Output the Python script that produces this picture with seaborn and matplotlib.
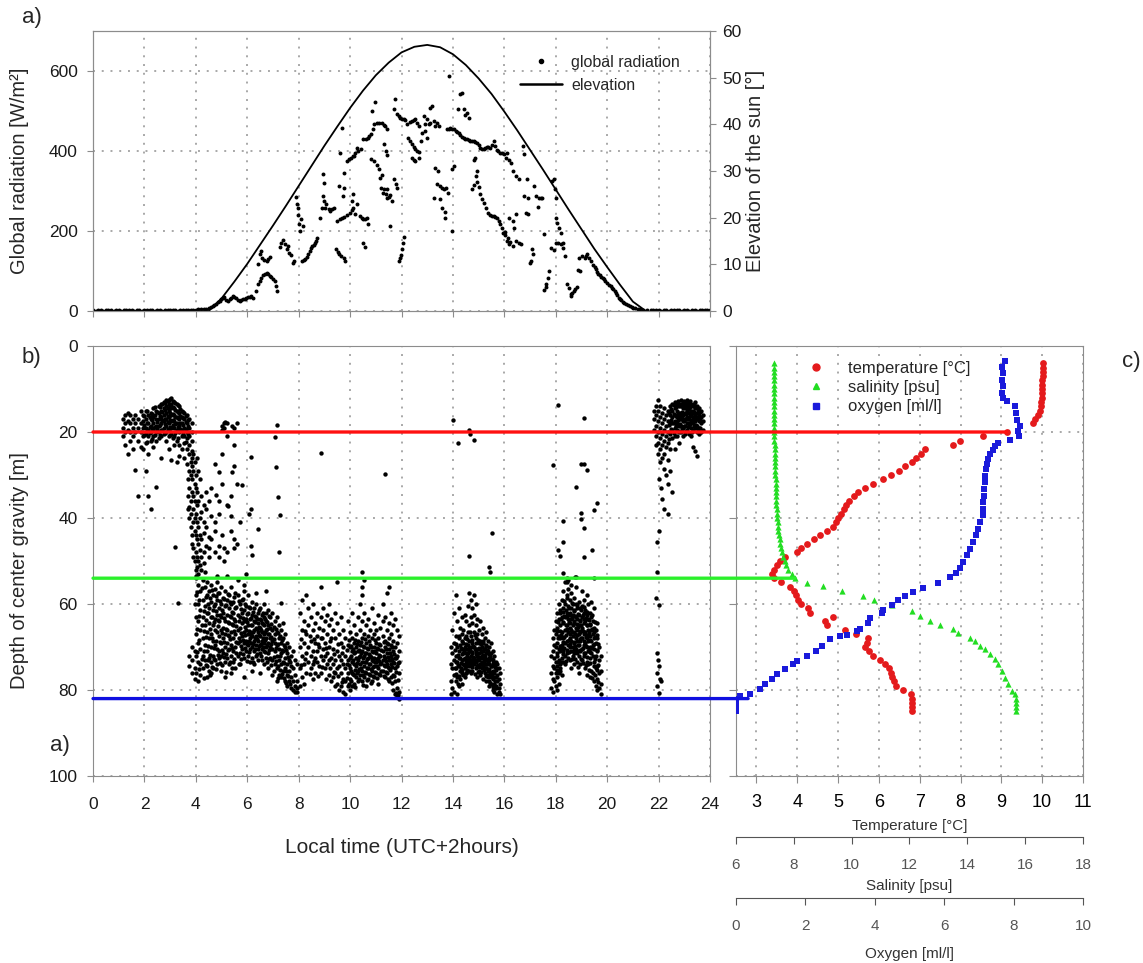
import pandas as pd
import matplotlib.pyplot as plt
import seaborn as sns
from matplotlib.lines import Line2D
from matplotlib.patches import ConnectionPatch

# ---------------- a) global radiation [W/m2] and sun elevation ----------------
# night samples every 0.1 h (0.0-4.2 h and 21.9-24.0 h)
rad_night_am = [2, 1, 2, 2, 1, 2, 3, 2, 1, 2, 2, 1, 2, 3, 2, 2, 1, 2, 2, 1, 2, 2,
                3, 2, 1, 2, 2, 1, 2, 2, 3, 2, 2, 1, 2, 2, 3, 2, 2, 3, 3, 4, 5]
rad_night_pm = [2, 2, 1, 2, 2, 1, 2, 2, 3, 2, 1, 2, 2, 1, 2, 2, 1, 2, 2, 3, 2, 2]

rad_morning = [
    (4.3, 4), (4.4, 5), (4.52, 8), (4.6, 10), (4.65, 12), (4.72, 15), (4.78, 18), (4.85, 22),
    (4.92, 25), (4.98, 29), (5.05, 32), (5.1, 36), (5.18, 27), (5.24, 25), (5.31, 29), (5.37, 33),
    (5.44, 37), (5.5, 34), (5.57, 32), (5.63, 28), (5.7, 25), (5.76, 27), (5.83, 29), (5.9, 31),
    (5.96, 32), (6.02, 36), (6.09, 35), (6.15, 38), (6.22, 33),
    (6.35, 50), (6.42, 67), (6.48, 76), (6.55, 83), (6.62, 90), (6.68, 92), (6.75, 95), (6.81, 92),
    (6.88, 88), (6.94, 85), (7.0, 80), (7.07, 75), (7.11, 62), (7.16, 50),
    (6.42, 117), (6.48, 142), (6.53, 150), (6.59, 133), (6.66, 128), (6.75, 125), (6.82, 130), (6.88, 135),
    (7.28, 160), (7.33, 171), (7.4, 178), (7.46, 168), (7.53, 154), (7.6, 162), (7.63, 146), (7.7, 140),
    (7.76, 121), (7.82, 125),
    (7.9, 285), (7.92, 267), (7.96, 258), (7.99, 240), (8.03, 217), (8.05, 200), (8.08, 229), (8.16, 212),
    (8.12, 125), (8.19, 127), (8.25, 129), (8.32, 135), (8.38, 142), (8.43, 150), (8.47, 158), (8.53, 162),
    (8.58, 165), (8.63, 170), (8.68, 175), (8.73, 183),
    (8.84, 233), (8.9, 258), (8.94, 287), (8.97, 275), (8.99, 321), (8.94, 342), (9.03, 258),
    (9.07, 267), (9.16, 254), (9.22, 250), (9.29, 254), (9.39, 258),
    (9.46, 154), (9.51, 148), (9.56, 143), (9.65, 138), (9.75, 133), (9.82, 125),
    (9.49, 225), (9.6, 230), (9.69, 233), (9.78, 236), (9.88, 240), (9.98, 245), (10.08, 252),
    (9.56, 312), (9.73, 287), (9.78, 308), (9.62, 396), (9.69, 458), (9.75, 346),
    (9.88, 375), (9.96, 380), (10.04, 383), (10.14, 388), (10.2, 396), (10.27, 407),
]

rad_midday = [
    (10.06, 275), (10.1, 292), (10.13, 258), (10.19, 242), (10.26, 267), (10.39, 237), (10.45, 232),
    (10.52, 229), (10.58, 231), (10.65, 233), (10.71, 217), (10.52, 171), (10.56, 160),
    (10.13, 387), (10.29, 400), (10.42, 404), (10.52, 429), (10.6, 431), (10.68, 433), (10.75, 438),
    (10.81, 443), (10.88, 455), (10.94, 467), (10.84, 500), (10.97, 523),
    (11.04, 471), (11.13, 470), (11.23, 470), (11.3, 466), (11.36, 462), (11.45, 454),
    (10.81, 379), (10.91, 375), (11.04, 365), (11.12, 354), (11.17, 333), (11.23, 340), (11.3, 304),
    (11.38, 292), (11.45, 283), (11.5, 286), (11.56, 290), (11.64, 275),
    (11.3, 417), (11.38, 400), (11.45, 390), (11.19, 308), (11.27, 296), (11.43, 304),
    (11.56, 212), (11.69, 504), (11.75, 529), (11.84, 492), (11.9, 488), (11.95, 483), (12.02, 481),
    (12.08, 479), (12.14, 477),
    (11.69, 329), (11.77, 317), (11.82, 307),
    (12.08, 185), (12.06, 171), (12.03, 154), (11.98, 140), (11.95, 132), (11.9, 125),
    (12.23, 467), (12.32, 472), (12.4, 475), (12.47, 477), (12.53, 479), (12.6, 470), (12.66, 462),
    (12.27, 433), (12.34, 425), (12.4, 417), (12.47, 410), (12.53, 404), (12.6, 400), (12.66, 398),
    (12.75, 425), (12.4, 383), (12.47, 378), (12.53, 375), (12.66, 382),
    (12.86, 487), (12.92, 467), (12.99, 479), (13.05, 468), (13.12, 471), (13.18, 512), (13.12, 508),
    (13.25, 475), (13.31, 462), (13.38, 471), (13.44, 462),
    (12.79, 446), (12.92, 450), (12.99, 433),
    (13.31, 358), (13.38, 317), (13.4, 350), (13.48, 312), (13.57, 308), (13.66, 304), (13.74, 308),
    (13.79, 296), (13.25, 283), (13.51, 279), (13.58, 258), (13.69, 248), (13.71, 233),
    (13.83, 588), (13.96, 200), (13.96, 354), (14.04, 362),
    (14.18, 504), (14.29, 542), (14.35, 546),
    (13.77, 454), (13.84, 456), (13.9, 458), (13.97, 456), (14.03, 454), (14.1, 451), (14.16, 448),
    (14.22, 444), (14.29, 440), (14.35, 436), (14.42, 433), (14.48, 431), (14.55, 429), (14.61, 427),
    (14.68, 425), (14.74, 425), (14.81, 425), (14.87, 423), (14.94, 421),
]

rad_afternoon = [
    (15.0, 414), (15.06, 408), (15.12, 406), (15.19, 404), (15.25, 407), (15.32, 410), (15.38, 409),
    (15.45, 407), (15.51, 415), (15.58, 425), (15.64, 412), (15.71, 402), (15.77, 399), (15.84, 396),
    (15.9, 394), (15.97, 392),
    (14.42, 504), (14.48, 490), (14.55, 496), (14.61, 483),
    (14.74, 304), (14.81, 315), (14.83, 377), (14.87, 383), (14.88, 337), (14.94, 350), (14.95, 323),
    (15.01, 310), (15.06, 292), (15.14, 279), (15.22, 271), (15.3, 258), (15.38, 246), (15.45, 240),
    (15.52, 238), (15.58, 237), (15.65, 235), (15.71, 232), (15.78, 225), (15.84, 217), (15.92, 208),
    (16.04, 198), (16.13, 183), (16.23, 173),
    (16.06, 383), (16.1, 396), (16.18, 378), (16.26, 371), (16.35, 350), (16.45, 337), (16.58, 329),
    (16.71, 412), (16.77, 392), (16.88, 329),
    (16.77, 287), (16.9, 283), (17.16, 312), (17.23, 287), (17.29, 260), (17.35, 283), (17.42, 283),
    (17.48, 282), (16.84, 246), (16.9, 242), (16.19, 233), (16.32, 225), (16.45, 242), (16.36, 208),
    (15.94, 196), (16.03, 190), (16.1, 175), (16.19, 168), (16.32, 162), (16.45, 175), (16.58, 170),
    (16.65, 167), (17.55, 192), (16.98, 120), (17.03, 125), (17.06, 154), (17.11, 142),
    (17.55, 53), (17.6, 60), (17.63, 68), (17.68, 83), (17.74, 100),
    (17.81, 158), (17.94, 152), (18.01, 171), (18.1, 170), (18.19, 167), (18.27, 157), (18.35, 137),
    (17.87, 325), (17.94, 329), (17.96, 304), (18.01, 283),
    (18.0, 233), (18.06, 221), (18.14, 208), (18.19, 195), (18.27, 170),
    (18.45, 67), (18.52, 57), (18.58, 37), (18.6, 42), (18.65, 45), (18.71, 50), (18.76, 55), (18.81, 60),
    (18.87, 102), (18.96, 100),
    (18.9, 133), (19.03, 137), (19.12, 133), (19.17, 138), (19.23, 142), (19.3, 133), (19.38, 125),
    (19.46, 115), (19.51, 110), (19.56, 104), (19.61, 98), (19.66, 93), (19.72, 89), (19.77, 85),
    (19.82, 82), (19.87, 79), (19.93, 75), (20.0, 71), (20.06, 66), (20.13, 62), (20.18, 58),
    (20.23, 54), (20.29, 50), (20.34, 46), (20.39, 40), (20.44, 33), (20.5, 30), (20.55, 27),
    (20.61, 23), (20.67, 20), (20.73, 17), (20.8, 14), (20.87, 12), (20.95, 10), (21.02, 8),
    (21.1, 7), (21.2, 5), (21.29, 4), (21.4, 3), (21.55, 2), (21.7, 2), (21.8, 2),
]

# sun elevation [deg], read every half hour from 4.5 h to 21.5 h
elev_hours = [4.5, 5.0, 5.5, 6.0, 6.5, 7.0, 7.5, 8.0, 8.5, 9.0, 9.5, 10.0, 10.5, 11.0, 11.5, 12.0,
              12.5, 13.0, 13.5, 14.0, 14.5, 15.0, 15.5, 16.0, 16.5, 17.0, 17.5, 18.0, 18.5, 19.0,
              19.5, 20.0, 20.5, 21.0, 21.5]
elev_deg = [0, 2.7, 6.3, 10.1, 14.2, 18.3, 22.5, 26.8, 31.1, 35.4, 39.5, 43.5, 47.2, 50.5, 53.2,
            55.4, 56.6, 57.0, 56.5, 55.0, 52.7, 49.8, 46.5, 42.7, 38.7, 34.5, 30.3, 26.0, 21.7,
            17.5, 13.3, 9.4, 5.6, 2.0, 0]

# ---------------- b) depth of centre of gravity [m] ----------------
# (hour, [depths observed around that hour])
dawn_shallow = [
    (1.15, [17, 19, 21]), (1.25, [16, 18, 20, 23]), (1.35, [15.5, 17.5, 19.5, 25]),
    (1.45, [16, 18, 20, 22]), (1.55, [17, 19, 21, 24]), (1.65, [16, 18, 20, 28.8]),
    (1.75, [17, 19, 22, 34.9]), (1.85, [15, 18, 20, 23.5]), (1.95, [16, 17.5, 19, 21, 24]),
    (2.05, [15, 17, 19, 20.5, 22.5, 29]), (2.15, [16, 18, 19.5, 21, 25, 35]),
    (2.25, [15.5, 17, 18.5, 20, 22, 37.8]), (2.35, [14.5, 16.5, 18, 19.5, 21, 23.5]),
    (2.45, [15, 17, 18.5, 20, 22, 32.7]), (2.55, [14, 15.5, 17, 18.5, 20, 21.5]),
    (2.65, [13.5, 15, 16.5, 18, 19.5, 21, 26]), (2.75, [13, 14.5, 16, 17.5, 19, 20.5]),
    (2.85, [12.5, 14, 15.5, 17, 18.5, 20, 22]), (2.95, [12.5, 13.5, 15, 16.5, 18, 19.5, 21, 24]),
    (3.05, [12, 13.5, 14.5, 16, 17.5, 19, 20.5, 26.5]), (3.15, [13, 14.5, 16, 17.5, 19, 21, 23]),
    (3.25, [13.5, 15, 16.5, 18, 19.5, 22, 27]), (3.35, [14, 15.5, 17, 18.5, 20, 23, 25.5]),
    (3.45, [15, 16.5, 18, 19.5, 21, 24]), (3.55, [15.5, 17, 19, 21, 22.5, 26]),
    (3.65, [16, 18, 20, 21.5, 24, 27.5]), (3.75, [17, 19, 21, 23, 25]), (3.85, [18, 20, 22, 24.5, 28]),
    (2.0, [16.3, 18.4, 20.8]), (2.1, [15.2, 17.8, 19.7, 22.3]), (2.2, [16.6, 18.9, 20.3]),
    (2.3, [15.7, 17.2, 19.1, 21.6]), (2.4, [14.3, 16.1, 18.8, 20.6]), (2.5, [15.4, 17.6, 19.3]),
    (2.6, [14.1, 16.2, 18.4, 20.7]), (2.7, [13.6, 15.3, 17.1, 19.6]), (2.8, [13.2, 14.8, 16.9, 18.2, 20.3]),
    (2.9, [12.8, 14.4, 16.3, 17.7, 19.4]), (3.0, [12.3, 13.9, 15.6, 17.3, 18.8, 20.6]),
    (3.1, [12.7, 14.2, 15.8, 17.1, 18.3, 21.4]), (3.2, [13.3, 14.9, 16.4, 18.1, 20.2]),
    (3.3, [13.8, 15.4, 16.8, 18.9, 21.3]), (3.4, [14.6, 16.2, 17.8, 19.2]),
    (3.5, [15.3, 16.7, 18.4, 20.5]), (3.6, [16.2, 17.6, 19.4, 22.3]), (3.7, [17.3, 18.6, 20.4]),
]

descent = [
    (3.7, [31, 35, 38]), (3.75, [29, 33, 37.5, 40]), (3.8, [27, 30, 36, 39, 42]),
    (3.85, [26, 31, 34, 44, 46]), (3.9, [25, 29, 35, 38, 41, 47, 49]), (3.95, [27, 32, 36, 40, 43, 50]),
    (4.0, [30, 33, 39, 44, 48, 52, 53.5]), (4.05, [26, 34, 37, 41, 45, 49, 51.5]),
    (4.1, [29, 36, 42, 46, 50, 53]), (4.15, [31, 40, 44, 47.5, 51]), (4.2, [35, 38.5, 45, 49, 52]),
    (4.3, [37, 41, 43.5, 48, 50.5]), (4.4, [34, 38, 42, 46.5]), (4.5, [36, 44.5, 47, 49]),
    (4.6, [33, 39.5, 45]), (4.75, [27.5, 41, 43, 48]), (4.9, [29.3, 36, 39, 46.5, 49]),
    (5.0, [18.5, 19.5, 25, 32, 44]), (5.1, [18, 19, 47, 50]), (5.2, [18, 21, 37, 48]),
    (5.35, [35, 39.5, 43]), (5.5, [19, 23, 28, 45, 47]), (5.6, [18, 32, 46]), (5.7, [41]),
    (5.8, [32.4]), (6.05, [39]), (6.15, [25.9, 37.9, 46.4]), (6.2, [48.5]), (6.4, [42.5]),
]

deep_morning = [
    (3.75, [72, 74.5]), (3.85, [70, 73, 76]), (3.95, [60, 71, 75, 77.5]),
    (4.02, [54, 58, 63, 67, 72, 76]), (4.1, [55.5, 60, 64, 69, 73.5, 78]),
    (4.18, [57, 61.5, 66, 70.5, 74, 76.5]), (4.26, [54.5, 59, 63, 68, 72, 75]),
    (4.34, [52.5, 56, 60.5, 65, 69.5, 73]), (4.42, [55, 58, 62, 66.5, 71, 74.5, 77]),
    (4.5, [57, 61, 64.5, 68, 72.5, 75.5]), (4.58, [55.5, 59.5, 63, 67, 70, 73.5, 76]),
    (4.66, [58, 61.5, 65, 68.5, 72, 75]), (4.74, [56.5, 60, 63.5, 66, 69.5, 73]),
    (4.82, [53.5, 55, 59, 62.5, 66.5, 70.5, 74]), (4.9, [57.5, 61, 64, 67.5, 71, 72.5]),
    (4.98, [56, 60, 63, 66, 69, 72, 75.5]), (5.06, [58.5, 62, 65.5, 68, 71.5]),
    (5.14, [57, 60.5, 64, 67, 70, 73.5, 77]), (5.22, [53.5, 59, 62.5, 66, 69, 72.5]),
    (5.3, [58, 61, 64.5, 67.5, 70.5, 74]), (5.38, [56, 60, 63, 66.5, 69.5, 72, 76]),
    (5.46, [59.5, 62, 65, 68, 71, 73.5]), (5.54, [57.5, 61, 64, 67, 70, 75]),
    (5.62, [54.5, 58, 62.5, 66, 69, 72]), (5.7, [60, 63, 65.5, 68.5, 71.5, 74]),
    (5.78, [59, 62, 64.5, 67.5, 70.5]), (5.86, [55.5, 57, 61.5, 64, 66.5, 69, 72.5, 77]),
    (5.94, [53, 60.5, 63.5, 66, 68.5, 71]), (6.02, [58, 62, 65, 67, 69.5, 72]),
    (6.1, [61, 63.5, 66.5, 68, 70.5, 73.5]), (6.18, [59.5, 62.5, 65, 67.5, 70, 72.5, 75.5]),
    (6.26, [61, 64, 66, 68.5, 71, 74]), (6.34, [57.5, 60, 63, 65.5, 67.5, 69.5, 72]),
    (6.42, [62, 64.5, 66.5, 68.5, 70.5, 73]), (6.5, [61, 63.5, 65.5, 67.5, 69.5, 71.5, 76]),
    (6.58, [62.5, 64.5, 66.5, 68.5, 70.5, 73]), (6.66, [60, 63, 65, 67, 69, 71, 74]),
    (6.74, [57, 62, 64, 66, 68, 70, 72.5]), (6.82, [61.5, 65, 67, 69, 71.5, 75]),
    (6.9, [63, 65.5, 68, 70, 72.5]), (6.98, [62, 66, 68.5, 70.5, 73, 76.5]),
    (7.06, [64, 67, 69, 71, 74]), (7.14, [63, 66.5, 69.5, 72, 75, 78]),
    (7.22, [65, 68, 70.5, 73, 76.5]), (7.3, [59.8, 66, 69, 71.5, 74, 77]),
    (7.38, [64.5, 68, 71, 73.5, 75.5]), (7.46, [67, 70, 72.5, 75, 78]),
    (7.54, [69, 71.5, 74, 76.5, 79]), (7.62, [70, 73, 75.5, 78]), (7.7, [72, 74.5, 77, 79.5]),
    (7.78, [71, 75, 78, 80]), (7.86, [73, 76.5, 79, 80.5]), (7.94, [74, 78, 79.5, 80.5]),
    (4.06, [57.3, 65.8, 71.2]), (4.14, [59.1, 62.7, 68.4, 75.1]), (4.22, [56.2, 64.9, 72.8]),
    (4.3, [61.7, 66.3, 70.9, 77.2]), (4.38, [58.4, 63.8, 67.6, 74.3]), (4.46, [59.9, 62.2, 69.7, 73.1]),
    (4.54, [58.7, 65.9, 71.8, 76.4]), (4.62, [56.8, 63.1, 67.9, 74.6]), (4.7, [60.4, 64.2, 70.3, 72.9]),
    (4.78, [58.2, 61.6, 68.7, 75.2]), (4.86, [57.4, 63.7, 65.1, 71.9]), (4.94, [59.3, 62.6, 68.9, 73.7]),
    (5.02, [61.4, 66.8, 70.6, 74.1]), (5.1, [58.9, 63.2, 68.8, 72.3]), (5.18, [60.2, 65.7, 71.6, 75.8]),
    (5.26, [57.6, 64.1, 67.3, 70.8]), (5.34, [59.6, 62.9, 68.2, 73.4]), (5.42, [61.8, 64.6, 70.2, 74.8]),
    (5.5, [58.3, 63.4, 66.3, 72.7]), (5.58, [60.7, 65.2, 68.9, 71.3]), (5.66, [59.4, 63.9, 67.8, 73.9]),
    (5.74, [61.2, 66.7, 69.8, 72.9]), (5.82, [58.8, 63.3, 68.3, 71.6]), (5.9, [60.1, 65.4, 67.1, 70.3]),
    (5.98, [62.3, 64.1, 69.4, 73.2]), (6.06, [60.6, 66.2, 68.7, 71.2]), (6.14, [63.2, 64.8, 67.3, 69.1]),
    (6.22, [61.9, 66.4, 69.3, 73.6]), (6.3, [62.7, 64.3, 67.8, 70.4]), (6.38, [63.4, 65.8, 68.1, 71.7]),
    (6.46, [61.3, 65.3, 67.2, 69.8]), (6.54, [63.8, 66.1, 69.2, 72.2]), (6.62, [62.1, 64.6, 67.9, 70.1]),
    (6.7, [63.6, 66.6, 68.3, 71.1]), (6.78, [64.3, 65.9, 69.6, 73.4]), (6.86, [62.8, 66.9, 70.7, 72.8]),
    (6.94, [64.7, 67.7, 69.2, 74.2]), (7.02, [65.4, 68.2, 72.3, 75.6]), (7.1, [65.9, 70.3, 73.3]),
    (7.18, [66.8, 69.3, 74.4, 77.3]), (7.26, [67.4, 72.2, 75.3]), (7.34, [68.3, 70.6, 76.2]),
    (7.42, [69.6, 73.8, 77.1]), (7.5, [70.7, 75.6, 78.3]), (7.58, [72.4, 76.8]), (7.66, [73.6, 78.6]),
]

deep_forenoon = [
    (8.06, [62, 70, 75, 79]), (8.14, [59, 66, 72, 77]), (8.22, [64, 69, 74, 78.5]),
    (8.3, [58, 67, 71.5, 76]), (8.38, [61, 65, 70, 73.5]), (8.46, [63, 68.5, 72, 75]),
    (8.54, [60, 66, 71, 74, 77.5]), (8.62, [64.5, 69, 72.5, 76]), (8.7, [62, 67.5, 71, 73.5]),
    (8.78, [65.5, 70, 74.5]), (8.86, [56, 63, 68, 72, 76]), (8.94, [61, 66, 70.5, 73]),
    (9.02, [64, 69, 72, 75]), (9.1, [62.5, 67, 71.5, 74]), (9.18, [60, 65, 70, 73, 76.5]),
    (9.26, [63.5, 68, 72.5, 78]), (9.34, [66, 70.5, 74, 77]), (9.42, [62, 68, 73, 76, 79]),
    (9.5, [55, 64.5, 71, 75, 78.5]), (9.58, [67, 72, 74.5, 80]), (9.66, [63, 69, 73, 76, 79]),
    (9.74, [66, 70, 74, 77.5, 80.5]), (9.82, [68, 72, 75, 78, 81]), (9.9, [64, 69.5, 73, 76, 79]),
    (9.98, [66.5, 70, 72.5, 75, 77.5, 80]), (10.06, [62, 68, 71, 73.5, 76, 79]),
    (10.14, [65, 69, 71.5, 74, 76.5, 78.5]), (10.22, [67, 70, 72.5, 74.5, 77]),
    (10.3, [63, 68.5, 71, 73, 75.5, 78]), (10.38, [60, 66, 69.5, 72, 74, 76.5]),
    (10.46, [52.5, 56, 58, 64, 68, 71, 73.5, 75.5, 78]), (10.54, [54.5, 62, 67, 70, 72, 74.5, 77]),
    (10.62, [65, 69, 71.5, 73.5, 76, 79]), (10.7, [63.5, 67.5, 70.5, 72.5, 75, 77.5]),
    (10.78, [66, 69.5, 72, 74, 76.5]), (10.86, [61, 68, 71, 73, 75.5, 78]),
    (10.94, [64.5, 67, 70, 72.5, 74.5, 77]), (11.02, [66, 69, 71.5, 73.5, 76]),
    (11.1, [62.5, 68, 70.5, 72.5, 75, 78.5]), (11.18, [65.5, 69.5, 72, 74, 76.5]),
    (11.26, [60, 64, 67.5, 71, 73, 75.5]), (11.34, [63, 68.5, 70, 72.5, 74.5, 77]),
    (11.42, [57.5, 66, 69, 71.5, 74, 76]), (11.5, [56, 64.5, 68, 70.5, 73, 75, 78]),
    (11.58, [62, 67, 69.5, 72, 74, 77]), (11.66, [65, 68.5, 71, 73.5, 76.5, 80]),
    (11.74, [63.5, 70, 72.5, 75, 78, 81]), (11.82, [66, 69, 72, 74.5, 79.5, 81.5]),
    (11.9, [67.5, 71, 73.5, 76, 80.5, 82]),
    (8.1, [68.2, 74.1]), (8.26, [66.3, 72.7]), (8.42, [67.4, 76.3]), (8.58, [68.1, 73.2]),
    (8.74, [69.4, 76.8]), (8.9, [67.9, 74.6]), (9.06, [70.2, 77.4]), (9.22, [68.6, 74.9]),
    (9.38, [71.6, 75.8]), (9.54, [69.2, 76.7]), (9.7, [71.4, 78.2]),
    (9.86, [70.7, 73.9, 77.2]), (9.94, [68.3, 74.3, 78.6]), (10.02, [69.7, 72.2, 75.6, 77.9]),
    (10.1, [70.4, 73.1, 76.2]), (10.18, [68.4, 71.2, 75.3, 79.3]), (10.26, [69.2, 73.7, 76.1]),
    (10.34, [70.6, 72.4, 75.2, 77.4]), (10.42, [68.9, 71.4, 74.8]), (10.5, [69.7, 72.6, 76.4, 78.9]),
    (10.58, [68.2, 71.3, 73.4, 75.8]), (10.66, [70.2, 72.7, 74.9, 77.6]), (10.74, [68.7, 71.6, 73.9, 76.2]),
    (10.82, [69.9, 72.4, 75.1, 78.3]), (10.9, [71.2, 73.2, 74.6, 76.7]), (10.98, [68.3, 70.9, 73.6, 75.9]),
    (11.06, [70.3, 72.8, 74.4, 77.3]), (11.14, [69.2, 71.9, 73.3, 76.3]), (11.22, [70.8, 73.7, 75.6]),
    (11.3, [68.8, 72.1, 74.3, 76.8]), (11.38, [70.5, 73.2, 75.7]), (11.46, [69.4, 72.3, 74.7, 77.5]),
    (11.54, [71.3, 73.1, 75.4]), (11.62, [70.1, 72.9, 74.6, 78.3]), (11.7, [71.7, 73.8, 76.7]),
    (11.78, [72.6, 75.8, 80.6]), (11.86, [73.7, 77.6, 81.1]),
]

deep_afternoon = [
    (13.92, [70, 74, 78, 81]), (13.98, [66, 71.5, 75, 79.5]), (14.04, [62, 69, 73, 76.5, 80.5]),
    (14.1, [58, 67.5, 72, 75, 78]), (14.16, [64, 70, 73.5, 77, 81]), (14.22, [61, 68, 71, 74.5, 79]),
    (14.28, [65.5, 69.5, 72.5, 75.5, 77.5]), (14.34, [63, 67, 70.5, 73, 76, 78.5]),
    (14.4, [66, 69, 71.5, 74, 76.5]), (14.46, [62.5, 68, 70, 72.5, 75, 77]),
    (14.52, [64, 67.5, 70.5, 73, 74.5, 76]), (14.58, [60.5, 66.5, 69.5, 71.5, 73.5, 75.5]),
    (14.64, [57.5, 65, 68.5, 71, 72.5, 74.5]), (14.7, [59, 63, 67.5, 70, 72, 74, 76]),
    (14.76, [61, 64.5, 69, 71.5, 73, 75.5]), (14.82, [58, 62.5, 66.5, 70, 72.5, 74]),
    (14.88, [60, 65, 68, 71, 73.5, 75]), (14.94, [63.5, 67, 70.5, 72, 74.5, 77]),
    (15.0, [66, 69, 71.5, 73, 75.5]), (15.06, [64, 68.5, 70.5, 72.5, 74, 76.5]),
    (15.12, [67, 70, 72, 73.5, 75]), (15.18, [65.5, 69, 71, 72.5, 74.5, 77.5]),
    (15.24, [68, 70.5, 72, 74, 76]), (15.3, [66.5, 69.5, 71.5, 73, 75, 78]),
    (15.36, [68.5, 71, 73.5, 75.5, 77]), (15.42, [70, 72.5, 74, 76.5, 79]),
    (15.48, [69, 71.5, 74.5, 77, 78.5]), (15.54, [71, 73, 75.5, 77.5, 80]),
    (15.6, [72, 74, 76, 78.5, 80.5]), (15.66, [73.5, 75, 77, 79]), (15.72, [74, 76.5, 78, 81]),
    (15.78, [75, 77.5, 79.5, 80.5]), (15.84, [76, 78.5, 81]),
    (14.07, [70.6, 74.8]), (14.13, [69.3, 73.4, 76.2]), (14.19, [71.8, 74.3, 78.6]),
    (14.25, [67.4, 72.6, 76.7]), (14.31, [70.2, 73.8, 74.9]), (14.37, [68.6, 71.7, 75.3]),
    (14.43, [70.7, 72.9, 74.2]), (14.49, [69.4, 71.3, 73.7, 76.1]), (14.55, [68.2, 72.1, 75.3]),
    (14.61, [70.3, 72.8, 74.1]), (14.67, [66.6, 70.8, 73.2, 75.6]), (14.73, [68.4, 71.2, 74.7]),
    (14.79, [69.7, 72.4, 73.8]), (14.85, [67.3, 70.4, 73.1, 76.3]), (14.91, [69.1, 71.7, 73.3]),
    (14.97, [68.4, 72.6, 74.1, 75.7]), (15.03, [70.2, 72.3, 74.6]), (15.09, [69.3, 71.2, 73.9, 75.7]),
    (15.15, [68.6, 71.8, 74.2]), (15.21, [70.4, 73.3, 75.3]), (15.27, [69.7, 72.7, 74.8, 76.8]),
    (15.33, [70.6, 73.9, 76.4]), (15.39, [71.7, 73.1, 75.2, 77.8]), (15.45, [72.2, 75.7, 78.3]),
    (15.51, [72.8, 74.4, 76.3]), (15.57, [73.7, 76.9, 79.2]), (15.63, [74.6, 77.8]), (15.69, [75.3, 79.6]),
]

deep_evening = [
    (17.82, [72, 76, 79.5]), (17.88, [68, 71, 74.5, 77.5, 80.5]), (17.94, [66, 69.5, 72.5, 75, 78]),
    (18.0, [64, 67, 70, 73.5, 76, 79]), (18.06, [62, 65.5, 69, 72, 74.5, 77, 80]),
    (18.12, [60, 63.5, 67.5, 70.5, 73, 76, 78.5]), (18.18, [61.5, 65, 68, 71, 74, 75.5]),
    (18.24, [59, 63, 66.5, 69.5, 72.5, 76.5]), (18.3, [52.9, 57, 61, 64.5, 68, 71, 73.5]),
    (18.36, [55, 60, 63, 66, 69, 72, 74]), (18.42, [54, 58, 62, 65, 68.5, 71.5]),
    (18.48, [54.5, 56.5, 60.5, 63.5, 66.5, 69.5, 72.5]), (18.54, [59, 62, 64.5, 67, 70, 73]),
    (18.6, [55.5, 57.5, 61, 63.5, 66, 68.5, 71, 75]), (18.66, [60, 62.5, 65, 67.5, 70, 72]),
    (18.72, [58.5, 61.5, 64, 66.5, 69, 71.5, 74]), (18.78, [53.8, 56, 60, 63, 65.5, 68, 70.5]),
    (18.84, [61, 63.5, 66, 68.5, 71, 73.5]), (18.9, [59.5, 62.5, 65, 67, 69.5, 72, 76]),
    (18.96, [61, 64, 66.5, 68.5, 71, 74]), (19.02, [57, 60.5, 63, 65.5, 68, 70.5, 73]),
    (19.08, [59, 62, 64.5, 67, 69.5, 72]), (19.14, [61.5, 64, 66.5, 69, 71.5, 75]),
    (19.2, [58, 62.5, 65, 68, 70, 73.5, 76.5]), (19.26, [60, 63.5, 66, 68.5, 71, 74]),
    (19.32, [62, 65, 67.5, 70, 72.5, 77]), (19.38, [59.5, 63, 66, 68.5, 71.5, 75.5]),
    (19.44, [64, 67, 69.5, 72, 76]), (19.5, [54, 61, 65.5, 68, 70.5, 73.5, 78]),
    (19.56, [66, 69, 72, 75, 79]), (19.62, [64.5, 68, 71, 74.5, 77.5, 80]),
    (19.68, [70, 73, 76, 79.5]), (19.74, [72, 75.5, 78.5, 81]),
    (18.03, [66.2, 71.4, 75.3]), (18.09, [64.3, 67.8, 73.6]), (18.15, [62.1, 66.2, 69.7, 74.8]),
    (18.21, [63.4, 67.3, 70.2, 73.4]), (18.27, [61.8, 64.3, 68.9, 71.7]), (18.33, [59.2, 62.7, 67.6, 70.3]),
    (18.39, [61.4, 64.8, 67.3, 73.2]), (18.45, [58.7, 62.9, 65.7, 70.6]), (18.51, [60.9, 64.1, 68.3, 71.2]),
    (18.57, [62.6, 65.6, 67.8, 69.4]), (18.63, [59.8, 63.2, 66.6, 72.8]), (18.69, [61.7, 64.4, 68.9, 70.8]),
    (18.75, [62.7, 66.9, 69.7, 72.9]), (18.81, [60.3, 64.7, 67.2, 71.4]), (18.87, [62.4, 65.3, 69.6, 74.7]),
    (18.93, [63.7, 66.2, 68.2, 70.6]), (18.99, [61.3, 64.8, 67.8, 72.7]), (19.05, [62.6, 66.3, 70.2, 73.8]),
    (19.11, [60.7, 63.4, 68.6, 71.3]), (19.17, [63.3, 67.6, 69.8, 74.2]), (19.23, [61.8, 64.9, 67.2, 72.3]),
    (19.29, [63.8, 66.8, 70.7, 75.3]), (19.35, [64.6, 68.3, 71.2, 73.8]), (19.41, [62.6, 65.7, 70.3, 77.3]),
    (19.47, [66.4, 69.2, 74.4]), (19.53, [64.2, 67.7, 72.9, 76.6]), (19.59, [67.3, 70.7, 75.4]),
    (19.65, [69.2, 74.3, 78.2]),
]

dusk_shallow = [
    (21.82, [15, 17, 19.5]), (21.9, [14, 16, 18.5, 21, 23]), (21.98, [12.5, 15, 17.5, 20, 22.5, 25]),
    (22.06, [14, 16.5, 19, 21.5, 24, 27]), (22.14, [15.5, 18, 20.5, 23, 26]),
    (22.22, [14.5, 17, 19.5, 22, 25, 28.5]), (22.3, [16, 18.5, 21, 23.5, 30]),
    (22.38, [15, 17.5, 20, 22.5, 26.5, 32]), (22.46, [14, 16, 18, 20.5, 24, 29]),
    (22.54, [13.5, 15, 16.5, 18, 19.5, 21.5, 34]), (22.62, [13, 14.5, 16, 17.5, 19, 21, 24]),
    (22.7, [13.5, 15, 16.5, 18, 19.5, 21]), (22.78, [14, 15.5, 17, 18.5, 20, 22.5]),
    (22.86, [12.5, 14, 15.5, 17, 18.5, 20]), (22.94, [13, 14.5, 16, 17.5, 19, 21]),
    (23.02, [13.5, 14.5, 15.5, 17, 18.5, 20.5]), (23.1, [12.5, 14, 15, 16.5, 18, 19.5]),
    (23.18, [13, 14.5, 15.5, 17, 18.5, 20.5]), (23.26, [13.5, 15, 16, 17.5, 19, 21]),
    (23.34, [14, 15, 16.5, 18, 19.5, 23.5]), (23.42, [13, 14.5, 16, 17.5, 19, 24.5]),
    (23.5, [14, 15.5, 17, 18.5, 20, 25.5]), (23.58, [14.5, 16, 17.5, 19, 20.5]),
    (23.66, [15, 16.5, 18, 20]), (23.74, [16, 17.5, 19.5]),
    (22.42, [15.6, 18.3, 21.7]), (22.5, [14.7, 17.2, 19.3]), (22.58, [13.8, 15.7, 17.9, 20.3]),
    (22.66, [14.2, 16.3, 18.6]), (22.74, [12.9, 15.8, 17.3, 19.8]), (22.82, [13.4, 16.2, 18.1]),
    (22.9, [13.7, 15.3, 16.8, 19.2]), (22.98, [12.8, 14.2, 17.4, 18.6]), (23.06, [13.1, 15.9, 16.9, 19.7]),
    (23.14, [13.6, 14.7, 17.8, 18.9]), (23.22, [12.7, 14.1, 16.3, 18.2]), (23.3, [13.8, 15.6, 17.2, 20.1]),
    (23.38, [13.4, 15.3, 16.9, 18.7]), (23.46, [14.3, 16.4, 18.3]), (23.54, [14.9, 16.8, 19.4]),
    (23.62, [15.4, 17.3, 19.1]),
    (22.0, [31, 43, 60.2, 74.5, 80.8]), (22.1, [33, 78]), (22.15, [35.5]), (22.2, [38]),
    (22.35, [39]), (21.95, [45.5, 52.5, 76]), (21.9, [58.7]), (21.92, [71.5, 79]),
    (21.98, [73]), (22.05, [77.5]),
]

# isolated echoes (hour, depth)
stray_echoes = [
    (3.18, 46.7), (3.3, 59.8), (5.15, 17.7), (5.4, 18.5), (5.4, 29.3), (5.25, 37.1), (4.8, 34.7),
    (7.06, 21.2), (7.15, 18.3), (7.1, 28.2), (7.2, 35.2), (7.28, 39.4), (7.25, 48),
    (8.85, 24.8), (11.35, 29.8), (14.02, 17.2), (14.21, 22.6), (14.64, 19.5), (14.65, 20.5),
    (14.82, 21.9), (14.64, 48.8), (15.52, 43.4), (15.42, 51.3), (15.43, 52.5),
    (18.1, 13.7), (19.1, 16.8), (17.9, 27.7), (19.0, 27.4), (19.1, 27.4), (19.2, 28.8),
    (18.8, 32.9), (19.6, 36.6), (19.5, 38.1), (19.0, 38.9), (19.0, 40.3), (19.1, 42.4),
    (18.3, 40.6), (18.1, 47.5), (18.15, 48.8), (18.3, 45.5), (19.4, 47.4), (19.1, 49),
    (18.45, 54.8), (18.75, 53.8),
]

# ---------------- c) CTD profile ----------------
temp_depth = [4, 5, 6, 7, 8, 9, 10, 11, 12, 13, 14, 15, 16, 17, 18, 20, 21, 22, 23, 24, 25, 26,
              27, 28, 29, 30, 31, 32, 33, 34, 35, 36, 37, 38, 39, 40, 41, 42, 43, 44, 45, 46, 47,
              48, 49, 50, 51, 52, 53, 54, 55, 56, 57, 58, 59, 60, 61, 62, 63, 64, 65, 66, 67, 68,
              69, 70, 71, 72, 73, 74, 75, 76, 77, 78, 79, 80, 81, 82, 83, 84, 85]
temp_val = [10.02, 10.02, 10.01, 10.01, 10.0, 10.0, 10.0, 9.99, 9.99, 9.98, 9.97, 9.95, 9.9,
            9.82, 9.78, 9.13, 8.56, 7.99, 7.82, 7.13, 7.02, 6.92, 6.8, 6.65, 6.5, 6.3, 6.1, 5.85,
            5.65, 5.5, 5.38, 5.28, 5.2, 5.15, 5.08, 5.0, 4.95, 4.88, 4.72, 4.56, 4.4, 4.25, 4.1,
            4.0, 3.7, 3.57, 3.5, 3.42, 3.39, 3.42, 3.6, 3.82, 3.92, 3.98, 4.03, 4.1, 4.27, 4.31,
            4.88, 4.68, 4.72, 5.17, 5.45, 5.74, 5.72, 5.66, 5.75, 5.85, 6.02, 6.15, 6.25, 6.3,
            6.32, 6.37, 6.43, 6.6, 6.78, 6.8, 6.8, 6.8, 6.8]

sal_depth = [4, 5, 6, 7, 8, 9, 10, 11, 12, 13, 14, 15, 16, 17, 18, 19, 20, 21, 22, 23, 24, 25,
             26, 27, 28, 29, 30, 31, 32, 33, 34, 35, 36, 37, 38, 39, 40, 41, 42, 43, 44, 45, 46,
             47, 48, 49, 50, 51, 52, 53, 54, 55.2, 55.9, 56.9, 58.1, 59, 60.2, 61.7, 62.8, 64,
             64.9, 65.9, 66.7, 67.8, 68.6, 69.8, 70.5, 71.7, 72.8, 74, 75.5, 77.1, 78.6, 80.2,
             80.9, 82, 83, 84, 85]
sal_val = [7.31, 7.31, 7.31, 7.31, 7.31, 7.31, 7.31, 7.31, 7.31, 7.31, 7.32, 7.32, 7.32, 7.32,
           7.32, 7.33, 7.33, 7.33, 7.33, 7.34, 7.34, 7.34, 7.35, 7.35, 7.35, 7.36, 7.36, 7.37,
           7.37, 7.38, 7.38, 7.39, 7.39, 7.4, 7.41, 7.42, 7.43, 7.44, 7.45, 7.47, 7.49, 7.51,
           7.53, 7.57, 7.6, 7.64, 7.68, 7.74, 7.8, 7.93, 8.04, 8.44, 9.0, 9.65, 10.38, 10.77,
           11.41, 12.07, 12.36, 12.71, 13.05, 13.52, 13.69, 14.1, 14.27, 14.44, 14.61, 14.78,
           14.96, 15.07, 15.19, 15.3, 15.42, 15.53, 15.65, 15.67, 15.67, 15.67, 15.67]

oxy_depth = [3.6, 4.8, 6.3, 7.8, 9.4, 10.9, 12.1, 12.8, 14, 15.5, 17.1, 18.6, 19.8, 20.9, 21.9,
             22.5, 23.2, 24.2, 25.2, 26.3, 27.5, 28.6, 30.2, 31.7, 33.2, 34.8, 36.3, 37.8, 39.4,
             40.9, 42.5, 44, 45.5, 47.1, 48.6, 50.2, 51.7, 52.8, 53.8, 55.2, 56.2, 57.1, 58.2,
             59, 60.2, 61.3, 62.1, 63.2, 64.4, 65.9, 66.3, 67.1, 67.5, 68.2, 69.8, 70.9, 72.1,
             73.2, 74, 75.2, 76.3, 77.5, 78.6, 79.8, 80.9, 81.3, 82, 83, 84, 85]
oxy_val = [7.75, 7.66, 7.7, 7.66, 7.69, 7.66, 7.7, 7.8, 8.04, 8.07, 8.09, 8.18, 8.14, 8.17, 7.9,
           7.56, 7.46, 7.4, 7.32, 7.27, 7.22, 7.2, 7.18, 7.18, 7.15, 7.15, 7.13, 7.13, 7.11,
           7.03, 6.98, 6.92, 6.84, 6.74, 6.65, 6.55, 6.46, 6.34, 6.17, 5.83, 5.4, 5.11, 4.87,
           4.68, 4.49, 4.25, 4.2, 3.86, 3.81, 3.57, 3.48, 3.19, 3.0, 2.71, 2.47, 2.32, 2.04,
           1.75, 1.65, 1.41, 1.17, 1.03, 0.84, 0.69, 0.4, 0.12, 0.0, 0.0, 0.0, 0.0]

# layer lines: (depth, where they end on the profile)
thermo_depth, thermo_end_temp = 20, 9.13
halo_depth, halo_end_sal = 54, 8.04
oxy_depth_line, oxy_end_val = 82, 0.35


def expand(columns):
    hours, depths = [], []
    for h, ds in columns:
        hours += [h] * len(ds)
        depths += list(ds)
    return hours, depths


# ---------------- assemble ----------------
night_am_hours = [i / 10 for i in range(len(rad_night_am))]
night_pm_hours = [21.9 + i / 10 for i in range(len(rad_night_pm))]
day = rad_morning + rad_midday + rad_afternoon
rad_df = pd.DataFrame({
    'hour': night_am_hours + [p[0] for p in day] + night_pm_hours,
    'wm2': rad_night_am + [p[1] for p in day] + rad_night_pm,
})
elev_df = pd.DataFrame({'hour': elev_hours, 'deg': elev_deg})

fish_h, fish_d = [], []
for block in [dawn_shallow, descent, deep_morning, deep_forenoon, deep_afternoon, deep_evening, dusk_shallow]:
    h, d = expand(block)
    fish_h += h
    fish_d += d
fish_h += [p[0] for p in stray_echoes]
fish_d += [p[1] for p in stray_echoes]
fish_df = pd.DataFrame({'hour': fish_h, 'depth': fish_d})

# ---------------- plot ----------------
sns.set_style('ticks')
plt.rcParams['font.family'] = ['Liberation Sans', 'DejaVu Sans']
plt.rcParams['axes.edgecolor'] = '#8c8c8c'
plt.rcParams['xtick.color'] = '#8c8c8c'
plt.rcParams['ytick.color'] = '#8c8c8c'
plt.rcParams['xtick.labelcolor'] = '#1a1a1a'
plt.rcParams['ytick.labelcolor'] = '#1a1a1a'

grid_kw = dict(color='#a8a8a8', linestyle=(0, (1, 3.5)), linewidth=1.4)
TICK_FS = 12.5
LABEL_FS = 14.5

fig = plt.figure(figsize=(11.43, 9.63), dpi=100)
ax_a = fig.add_axes([0.0814, 0.6771, 0.5398, 0.2908])
ax_a2 = ax_a.twinx()
ax_b = fig.add_axes([0.0814, 0.1942, 0.5398, 0.4465])
ax_c = fig.add_axes([0.6439, 0.1942, 0.3036, 0.4465], sharey=ax_b)
ax_s = ax_c.twiny()
ax_o = ax_c.twiny()

# a) radiation + elevation
sns.scatterplot(data=rad_df, x='hour', y='wm2', ax=ax_a, color='black', s=8,
                linewidth=0, legend=False, zorder=3)
sns.lineplot(data=elev_df, x='hour', y='deg', ax=ax_a2, color='black', linewidth=1.3)
ax_a.set_xlim(0, 24)
ax_a.set_ylim(0, 700)
ax_a2.set_ylim(0, 60)
ax_a.set_xticks(range(0, 25, 2))
ax_a.set_xticklabels([])
ax_a.set_yticks([0, 200, 400, 600])
ax_a2.set_yticks(range(0, 61, 10))
ax_a.grid(True, **grid_kw)
ax_a.set_axisbelow(True)
ax_a.set_xlabel('')
ax_a2.set_xlabel('')
ax_a.set_ylabel('Global radiation [W/m²]', fontsize=LABEL_FS)
ax_a2.set_ylabel('Elevation of the sun [°]', fontsize=LABEL_FS)
ax_a.yaxis.set_label_coords(-0.103, 0.5)
ax_a2.yaxis.set_label_coords(1.058, 0.5)
ax_a.tick_params(labelsize=TICK_FS, length=4)
ax_a.tick_params(axis='y', pad=7)
ax_a2.tick_params(labelsize=TICK_FS, length=4, pad=5)
rad_handles = [Line2D([], [], marker='o', ls='none', color='black', markersize=3),
               Line2D([], [], color='black', linewidth=1.8)]
ax_a2.legend(rad_handles, ['global radiation', 'elevation'], loc='upper right',
             bbox_to_anchor=(0.975, 0.965), frameon=False, fontsize=11.5,
             handlelength=2.6, labelspacing=0.5, handletextpad=0.6)

# b) depth of fish
sns.scatterplot(data=fish_df, x='hour', y='depth', ax=ax_b, color='black', s=10,
                linewidth=0, legend=False, zorder=3)
ax_b.set_xlim(0, 24)
ax_b.set_ylim(100, 0)
ax_b.set_xticks(range(0, 25, 2))
ax_b.set_yticks(range(0, 101, 20))
ax_b.grid(True, **grid_kw)
ax_b.set_axisbelow(True)
ax_b.tick_params(labelsize=TICK_FS, length=4)
ax_b.tick_params(axis='x', pad=11)
ax_b.tick_params(axis='y', pad=7)
ax_b.set_xlabel('Local time (UTC+2hours)', fontsize=15, labelpad=19)
ax_b.set_ylabel('Depth of center gravity [m]', fontsize=LABEL_FS)
ax_b.yaxis.set_label_coords(-0.103, 0.477)

# c) profiles
sns.scatterplot(x=temp_val, y=temp_depth, ax=ax_c, color='#e41a1c', marker='o', s=24,
                linewidth=0, legend=False, zorder=4)
sns.scatterplot(x=sal_val, y=sal_depth, ax=ax_s, color='#22dd22', marker='^', s=20,
                linewidth=0, legend=False, zorder=4)
sns.scatterplot(x=oxy_val, y=oxy_depth, ax=ax_o, color='#1a1adb', marker='s', s=20,
                linewidth=0, legend=False, zorder=4)
ax_c.set_xlim(2.5, 11)
ax_c.set_xticks(range(3, 12))
ax_c.set_ylim(100, 0)
ax_c.grid(True, **grid_kw)
ax_c.set_axisbelow(True)
ax_c.tick_params(axis='y', labelleft=False, length=5)
ax_c.tick_params(axis='x', labelsize=13, length=5, pad=8, labelcolor='black')
ax_c.set_ylabel('')
ax_c.set_xlabel('Temperature [°C]', fontsize=11, color='#333333', labelpad=6)

for ax, lim, ticks, label, offset, lpad in [
        (ax_s, (6, 18), range(6, 19, 2), 'Salinity [psu]', 44, 5),
        (ax_o, (0, 10), range(0, 11, 2), 'Oxygen [ml/l]', 88, 10)]:
    ax.set_xlim(*lim)
    ax.set_xticks(list(ticks))
    ax.xaxis.set_ticks_position('bottom')
    ax.xaxis.set_label_position('bottom')
    ax.spines['bottom'].set_position(('outward', offset))
    ax.spines['bottom'].set_color('#555555')
    for side in ('top', 'left', 'right'):
        ax.spines[side].set_visible(False)
    ax.tick_params(axis='x', labelsize=11, length=5, pad=10, color='#555555', labelcolor='#555555')
    ax.set_xlabel(label, fontsize=11, color='#333333', labelpad=lpad)

prof_handles = [Line2D([], [], marker='o', ls='none', color='#e41a1c', markersize=5),
                Line2D([], [], marker='^', ls='none', color='#22dd22', markersize=5),
                Line2D([], [], marker='s', ls='none', color='#1a1adb', markersize=5)]
ax_o.legend(prof_handles, ['temperature [°C]', 'salinity [psu]', 'oxygen [ml/l]'],
            loc='upper left', bbox_to_anchor=(0.14, 1.0), frameon=False, fontsize=12,
            handletextpad=0.9, labelspacing=0.25)

# layer lines running from panel b into the profiles
for depth, end_x, end_ax, colour in [
        (thermo_depth, thermo_end_temp, ax_c, '#ff1010'),
        (halo_depth, halo_end_sal, ax_s, '#2bf02b'),
        (oxy_depth_line, oxy_end_val, ax_o, '#1010e0')]:
    con = ConnectionPatch(xyA=(0, depth), coordsA=ax_b.transData,
                          xyB=(end_x, depth), coordsB=end_ax.transData,
                          color=colour, linewidth=2.4, zorder=5)
    fig.add_artist(con)

fig.text(22 / 1143, 1 - 18 / 963, 'a)', fontsize=16, va='center', ha='left')
fig.text(22 / 1143, 1 - 358 / 963, 'b)', fontsize=16, va='center', ha='left')
fig.text(1122 / 1143, 1 - 362 / 963, 'c)', fontsize=16, va='center', ha='left')
fig.text(50 / 1143, 1 - 745 / 963, 'a)', fontsize=16, va='center', ha='left')

plt.savefig('out.png', dpi=100)
plt.close()
